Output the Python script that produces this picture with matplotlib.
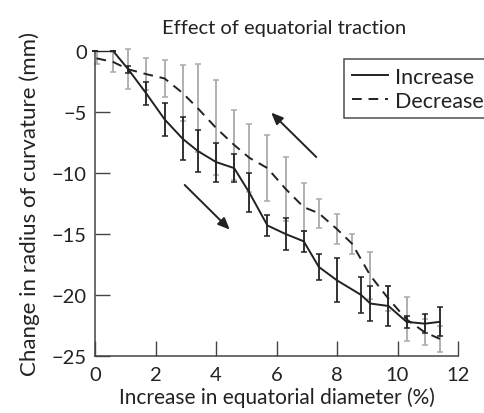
import matplotlib
matplotlib.use("Agg")
import matplotlib.pyplot as plt

plt.rcParams['font.family'] = ['Lato', 'DejaVu Sans']

# Increase (solid, black error bars)
x_inc = [0.0, 0.6, 1.1, 1.7, 2.3, 2.9, 3.4, 4.0, 4.6, 5.1, 5.7, 6.3, 6.9, 7.4, 8.0, 8.8, 9.1, 9.7, 10.3, 10.9, 11.4]
y_inc = [0.0, 0.0, -1.5, -3.5, -5.6, -7.2, -8.2, -9.1, -9.6, -11.6, -14.3, -15.0, -15.6, -17.7, -18.8, -20.0, -20.7, -20.9, -22.2, -22.35, -22.2]
e_inc = [0.0, 0.0, 0.3, 0.95, 1.35, 1.75, 1.7, 1.6, 1.15, 1.6, 0.87, 1.3, 0.85, 1.1, 1.8, 1.45, 1.45, 1.65, 0.5, 0.8, 1.2]

# Decrease (dashed, grey error bars)
x_dec = [0.05, 0.6, 1.1, 1.7, 2.3, 2.9, 3.4, 4.0, 4.6, 5.1, 5.7, 6.3, 6.9, 7.4, 8.0, 8.5, 9.1, 9.7, 10.3, 10.9, 11.4]
y_dec = [-0.6, -0.9, -1.5, -1.9, -2.25, -3.45, -4.7, -6.3, -7.7, -8.75, -9.6, -11.3, -12.8, -13.3, -14.6, -15.8, -18.4, -20.3, -22.0, -23.05, -23.6]
e_dec = [0.5, 0.85, 1.65, 1.3, 1.55, 2.3, 3.6, 3.9, 2.85, 2.8, 2.7, 2.6, 1.95, 1.17, 1.2, 0.8, 1.95, 1.05, 1.8, 1.05, 1.1]

xticks = [0, 2, 4, 6, 8, 10, 12]
yticks = [0, -5, -10, -15, -20, -25]

ink = '#222222'
grey = '#aaaaaa'

fig = plt.figure(figsize=(4.84, 4.14), dpi=100)
ax = fig.add_axes([95/484, 1 - 357/414, (458 - 95)/484, (357 - 52)/414])

ax.errorbar(x_dec, y_dec, yerr=e_dec, fmt='none', ecolor=grey, elinewidth=1.3,
            capsize=2.4, capthick=1.1, clip_on=False, zorder=2)
ax.plot(x_dec, y_dec, color=ink, lw=1.4, linestyle=(0, (5, 3.5)), label='Decrease', zorder=3)
ax.errorbar(x_inc, y_inc, yerr=e_inc, fmt='none', ecolor=ink, elinewidth=1.3,
            capsize=2.4, capthick=1.1, clip_on=False, zorder=4)
ax.plot(x_inc, y_inc, color=ink, lw=1.4, linestyle='-', label='Increase', zorder=5)

# arrows
ax.annotate('', xy=(5.76, -4.89), xytext=(7.38, -8.85),
            arrowprops=dict(arrowstyle='-|>,head_length=0.7,head_width=0.3', color=ink, lw=1.4))
ax.annotate('', xy=(4.52, -14.8), xytext=(2.90, -10.82),
            arrowprops=dict(arrowstyle='-|>,head_length=0.7,head_width=0.3', color=ink, lw=1.4))

ax.set_xlim(0, 12)
ax.set_ylim(-25, 0)
ax.set_xticks(xticks)
ax.set_yticks(yticks)
for s in ['top', 'right']:
    ax.spines[s].set_visible(False)
for s in ['left', 'bottom']:
    ax.spines[s].set_color('#444444')
    ax.spines[s].set_linewidth(1.1)
ax.tick_params(direction='in', length=10.5, width=1.0, color='#444444',
               labelsize=14.5, labelcolor=ink)
ax.tick_params(axis='x', pad=7)
ax.tick_params(axis='y', pad=6)

ax.set_xlabel('Increase in equatorial diameter (%)', fontsize=15, color=ink, labelpad=3)
ax.set_ylabel('Change in radius of curvature (mm)', fontsize=16, color=ink, labelpad=8)
ax.set_title('Effect of equatorial traction', fontsize=14.5, color=ink, pad=13, x=0.52)

handles, labels = ax.get_legend_handles_labels()
order = [labels.index('Increase'), labels.index('Decrease')]
leg = fig.legend([handles[i] for i in order], [labels[i] for i in order],
                 loc='upper left', bbox_to_anchor=(344/484, 1 - 60/414),
                 fontsize=15.5, frameon=True, fancybox=False, edgecolor=ink,
                 handlelength=1.7, handletextpad=0.3, borderpad=0.35,
                 labelspacing=0.2, borderaxespad=0)
leg.get_frame().set_linewidth(1.1)
for t in leg.get_texts():
    t.set_color(ink)

fig.savefig('out.png', dpi=100)
